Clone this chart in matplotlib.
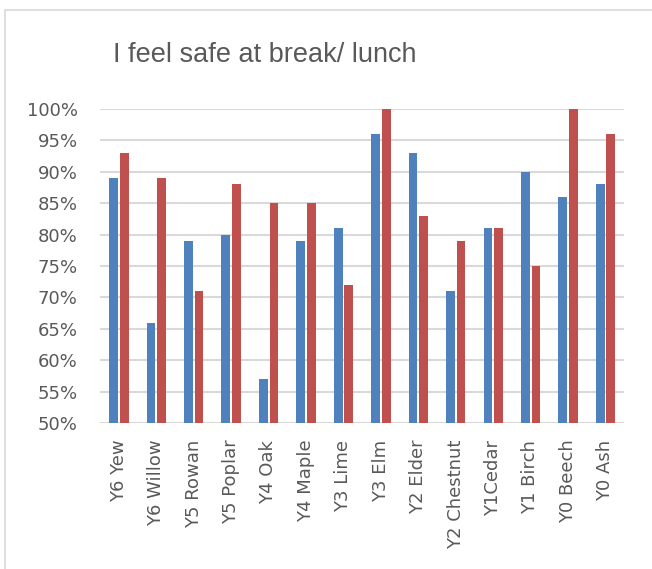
import numpy as np
import matplotlib.pyplot as plt
from matplotlib.patches import Rectangle
from matplotlib.ticker import PercentFormatter

# Datos
clases = ['Y6 Yew', 'Y6 Willow', 'Y5 Rowan', 'Y5 Poplar', 'Y4 Oak', 'Y4 Maple', 'Y3 Lime',
          'Y3 Elm', 'Y2 Elder', 'Y2 Chestnut', 'Y1Cedar', 'Y1 Birch', 'Y0 Beech', 'Y0 Ash']
serie_azul = [89, 66, 79, 80, 57, 79, 81, 96, 93, 71, 81, 90, 86, 88]
serie_roja = [93, 89, 71, 88, 85, 85, 72, 100, 83, 79, 81, 75, 100, 96]

gris = '#595959'

fig = plt.figure(figsize=(6.52, 5.69), dpi=100)
ax = fig.add_axes([0.1534, 0.2566, 0.8037, 0.5518])

# Marco del grafico (cortado a la derecha y abajo)
fig.patches.append(Rectangle((5 / 652, -0.1), 1.2, 1.1 - 10 / 569, transform=fig.transFigure,
                             fill=False, edgecolor='#D9D9D9', linewidth=1.2))

x = np.arange(len(clases))
ancho = 0.235
ax.bar(x - 0.137, serie_azul, width=ancho, color='#4F81BD', zorder=3)
ax.bar(x + 0.147, serie_roja, width=ancho, color='#C0504D', zorder=3)

ax.set_xlim(-0.5, len(clases) - 0.5)
ax.set_ylim(50, 100)
ax.set_yticks(np.arange(50, 101, 5))
ax.yaxis.set_major_formatter(PercentFormatter(decimals=0))
ax.grid(axis='y', color='#D9D9D9', linewidth=1.5, zorder=0)
ax.set_xticks(x)
ax.set_xticklabels(clases, rotation=90)
ax.tick_params(axis='y', length=0, pad=16, labelsize=13, labelcolor=gris)
ax.tick_params(axis='x', length=0, pad=12, labelsize=13, labelcolor=gris)
for s in ax.spines.values():
    s.set_visible(False)

fig.text(0.406, 0.903, 'I feel safe at break/ lunch', ha='center', va='center',
         fontsize=19.5, color=gris, family='Liberation Sans')

fig.savefig('out.png', dpi=100)
